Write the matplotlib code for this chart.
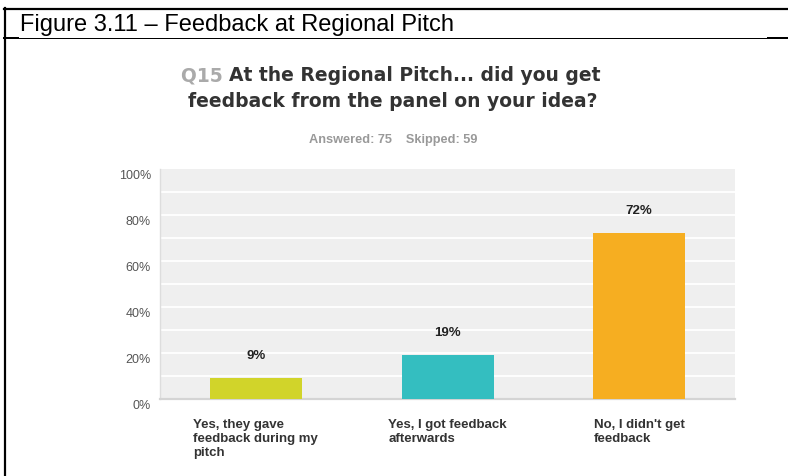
import numpy as np
import matplotlib
matplotlib.use('Agg')
import matplotlib.pyplot as plt
from matplotlib.lines import Line2D

plt.rcParams['font.family'] = ['Liberation Sans', 'DejaVu Sans']

W, H = 788, 477

categories = ['Yes, they gave\nfeedback during my\npitch',
              'Yes, I got feedback\nafterwards',
              "No, I didn't get\nfeedback"]
percent = [9, 19, 72]
bar_colors = ['#d1d42a', '#34bec0', '#f6ae21']
yticks = [0, 20, 40, 60, 80, 100]

header = 'Figure 3.11 \u2013 Feedback at Regional Pitch'
qnum = 'Q15'
question_1 = 'At the Regional Pitch... did you get'
question_2 = 'feedback from the panel on your idea?'
answered, skipped = 75, 59


def px(x, y):
    # pixel coords (top-left origin) -> figure fraction
    return x / W, 1 - y / H


fig = plt.figure(figsize=(W / 100, H / 100), dpi=100, facecolor='white')

# document frame around the figure
for xs, ys, lw in [([4, 788], [10, 10], 2.2),
                   ([5, 5], [9, 477], 2.2),
                   ([4, 788], [38.5, 38.5], 1.0),
                   ([4, 18], [38.5, 38.5], 2.0),
                   ([768, 788], [38.5, 38.5], 2.0)]:
    fig.add_artist(Line2D([x / W for x in xs], [1 - y / H for y in ys],
                          color='black', lw=lw * 0.72, transform=fig.transFigure))

fig.text(*px(20, 24.5), header, fontsize=17, color='black', va='center', ha='left')

# question title, with grey question number
tfont = ['DejaVu Sans']
tsize = 13.5
t = fig.text(*px(181, 81), qnum + ' ', fontsize=tsize, fontweight='bold', family=tfont,
             color='#aaaaaa', va='baseline', ha='left')
fig.canvas.draw()
bb = t.get_window_extent()
fig.text(bb.x1 / W, 1 - 81 / H, question_1, fontsize=tsize, fontweight='bold', family=tfont,
         color='#333333', va='baseline', ha='left')
fig.text(*px(393, 107), question_2, fontsize=tsize, fontweight='bold', family=tfont,
         color='#333333', va='baseline', ha='center')
fig.text(*px(393, 140), 'Answered: %d    Skipped: %d' % (answered, skipped),
         fontsize=9.2, fontweight='bold', color='#999999', va='center', ha='center')

# plot area
ax = fig.add_axes([160 / W, (H - 400) / H, 575 / W, 230 / H])
ax.set_facecolor('#efefef')
x = np.arange(len(categories))
ax.bar(x, percent, width=0.48, color=bar_colors, zorder=3)
ax.set_xlim(-0.5, len(categories) - 0.5)
ax.set_ylim(0, 100)

for yv in range(10, 100, 10):
    ax.axhline(yv, color='white', lw=1.3, zorder=2)

for s in ['top', 'right']:
    ax.spines[s].set_visible(False)
ax.spines['left'].set_color('#dddddd')
ax.spines['left'].set_linewidth(1.0)
ax.spines['bottom'].set_color('#d4d4d4')
ax.spines['bottom'].set_linewidth(1.6)

# y labels sit a little below their gridlines
ax.set_yticks(yticks)
ax.set_yticklabels([])
ax.tick_params(axis='y', length=0)
for yv in yticks:
    ax.annotate('%d%%' % yv, (0, yv), xycoords=('axes fraction', 'data'),
                xytext=(-6.5, -4.5), textcoords='offset points',
                ha='right', va='center', fontsize=9, color='#555555')

ax.set_xticks(x)
ax.set_xticklabels(categories, fontsize=9.5, fontweight='bold', color='#333333',
                   multialignment='left', linespacing=1.18)
ax.tick_params(axis='x', length=0, pad=14)
for lab in ax.get_xticklabels():
    lab.set_verticalalignment('top')

for xi, v in zip(x, percent):
    ax.annotate('%d%%' % v, (xi, v), xytext=(0, 16.5), textcoords='offset points',
                ha='center', va='center', fontsize=9.5, fontweight='bold', color='#222222')

fig.savefig('out.png', dpi=100, facecolor='white')
